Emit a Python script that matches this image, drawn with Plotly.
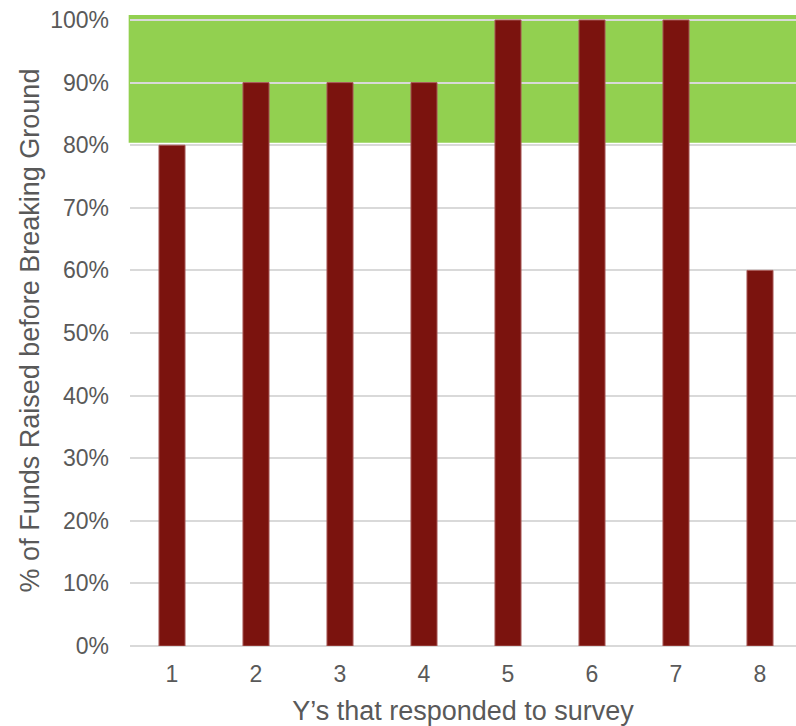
import plotly.graph_objects as go

# Survey responses: share of funds raised before breaking ground
respondents = [1, 2, 3, 4, 5, 6, 7, 8]
pct_raised = [0.80, 0.90, 0.90, 0.90, 1.00, 1.00, 1.00, 0.60]

# Target band highlighted in green
band_low = 0.804
band_high = 1.008

text_color = "#595959"
grid_color = "#D9D9D9"
bar_color = "#7B130E"
band_color = "#92D050"
font_family = "Liberation Sans, Arial, sans-serif"

fig = go.Figure()
fig.add_trace(go.Bar(
    x=respondents,
    y=pct_raised,
    width=0.31,
    marker=dict(color=bar_color, line=dict(color="#A85A57", width=1)),
    hoverinfo="skip",
))

fig.add_shape(
    type="rect", xref="paper", yref="y",
    x0=-0.002, x1=1.0, y0=band_low, y1=band_high,
    fillcolor=band_color, line=dict(width=0), layer="below",
)

fig.update_layout(
    width=796, height=726,
    margin=dict(l=130, r=0, t=15, b=80),
    paper_bgcolor="white", plot_bgcolor="white",
    showlegend=False,
    font=dict(family=font_family, color=text_color),
)

fig.update_xaxes(
    range=[0.5, 8.4286],
    tickmode="array", tickvals=respondents, ticktext=[str(r) for r in respondents],
    tickfont=dict(size=23, color=text_color),
    ticks="", showgrid=False, zeroline=False, showline=False,
    ticklabelstandoff=12,
    title=dict(text="Y’s that responded to survey", font=dict(size=27, color=text_color), standoff=16),
)

fig.update_yaxes(
    range=[0, band_high],
    tickmode="linear", tick0=0, dtick=0.1, tickformat=".0%",
    tickfont=dict(size=23, color=text_color),
    ticks="", showgrid=True, gridcolor=grid_color, gridwidth=2,
    zeroline=True, zerolinecolor=grid_color, zerolinewidth=2,
    showline=False,
    ticklabelstandoff=20,
    title=dict(text="% of Funds Raised before Breaking Ground", font=dict(size=27, color=text_color), standoff=2),
)

fig.write_html("out.html")
